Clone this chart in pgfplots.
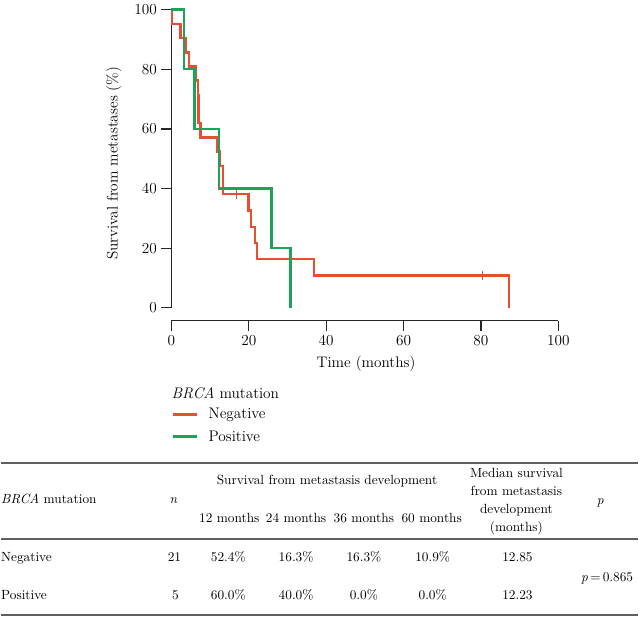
\documentclass[border=0pt]{standalone}
\usepackage{fontspec}
\usepackage{pgfplots}
\pgfplotsset{compat=1.18}

\definecolor{kmred}{RGB}{232,78,50}
\definecolor{kmgreen}{RGB}{27,163,90}
\definecolor{rulegray}{RGB}{95,95,95}
\newcommand{\chartfont}{\fontsize{11.5}{13.8}\selectfont}
\newcommand{\tabfont}{\fontsize{10}{13.5}\selectfont}

\begin{document}
\begin{tikzpicture}
% page in pixel units (1px = 0.75pt), y pointing down
\begin{scope}[x=0.75pt,y=-0.75pt]
  \useasboundingbox (0,0) rectangle (639,616);
\end{scope}

\begin{axis}[
  at={(128.25pt,-239.25pt)}, anchor=south west,
  width=291pt, height=234pt, scale only axis,
  xmin=0, xmax=100, ymin=-4.35, ymax=100,
  xtick={0,20,...,100}, ytick={0,20,...,100},
  axis x line*=bottom, axis y line*=left,
  axis line style={draw=none},
  tick align=outside, major tick length=7.5pt,
  tick style={black!85, line width=1pt},
  tick label style={font=\chartfont},
  /pgf/number format/assume math mode=true,
  xlabel={Time (months)},
  ylabel={Survival from metastases (\%)},
  label style={font=\chartfont},
  xlabel style={at={(axis description cs:0.503,-0.138)}, anchor=center},
  ylabel style={at={(axis description cs:-0.149,0.506)}, anchor=center},
  clip=false,
]
  % axis lines (x axis detached below zero)
  \draw[black!85, line width=1pt] (axis cs:0,-4.35) -- (axis cs:100,-4.35);
  \draw[black!85, line width=1pt] (axis cs:0,0) -- (axis cs:0,100);

  % BRCA negative (n = 21)
  \addplot[const plot, kmred, line width=1.8pt] coordinates {
    (0,100)(0.2,95.2)(2.3,90.5)(3.8,85.7)(4.6,81.0)(6.2,76.2)(6.8,71.4)
    (7.0,61.9)(7.5,57.1)(11.8,52.4)(12.6,47.6)(13.4,38.1)(19.9,32.7)
    (20.5,27.2)(21.6,21.8)(22.1,16.3)(36.8,10.9)(87.3,0)
  };
  \addplot[only marks, mark=|, mark size=3.5pt, kmred, line width=0.9pt]
    coordinates {(16.8,38.1)(80.5,10.9)};
  % BRCA positive (n = 5)
  \addplot[const plot, kmgreen, line width=1.8pt] coordinates {
    (0,100)(3.2,80)(6.0,60)(12.3,40)(25.9,20)(30.8,0)
  };
\end{axis}

% legend
\begin{scope}[x=0.75pt,y=-0.75pt, font=\chartfont]
  \node[anchor=west, inner sep=0pt] at (171,392) {\textit{BRCA} mutation};
  \draw[kmred, line width=1.8pt] (173,413) -- (197,413);
  \node[anchor=west, inner sep=0pt] at (208,413) {Negative};
  \draw[kmgreen, line width=1.8pt] (173,435) -- (197,435);
  \node[anchor=west, inner sep=0pt] at (208,435) {Positive};
\end{scope}

% summary table
\begin{scope}[x=0.75pt,y=-0.75pt, font=\tabfont,
  every node/.style={inner sep=0pt, text height=7pt, text depth=2pt}]
  \draw[rulegray, line width=1.4pt] (0,462) -- (639,462);
  \draw[rulegray, line width=1.4pt] (0,538) -- (639,538);
  \draw[rulegray, line width=1.4pt] (0,614) -- (639,614);

  \node[anchor=west] at (0,499) {\textit{BRCA} mutation};
  \node at (173,499) {\textit{n}};
  \node at (327,480) {Survival from metastasis development};
  \node at (229,518) {12 months};
  \node at (296,518) {24 months};
  \node at (364,518) {36 months};
  \node at (432,518) {60 months};
  \node[align=center, text height=, text depth=] at (517,500)
    {Median survival\\from metastasis\\development\\(months)};
  \node at (601,500) {\textit{p}};

  \node[anchor=west] at (0,557) {Negative};
  \node at (174,557) {21};
  \node at (228,557) {52.4\%};
  \node at (296,557) {16.3\%};
  \node at (364,557) {16.3\%};
  \node at (433,557) {10.9\%};
  \node at (518,557) {12.85};

  \node[anchor=west] at (0,595) {Positive};
  \node at (175,595) {5};
  \node at (228,595) {60.0\%};
  \node at (296,595) {40.0\%};
  \node at (364,595) {0.0\%};
  \node at (433,595) {0.0\%};
  \node at (518,595) {12.23};

  \node at (608,577) {\textit{p}\,=\,0.865};
\end{scope}
\end{tikzpicture}
\end{document}
